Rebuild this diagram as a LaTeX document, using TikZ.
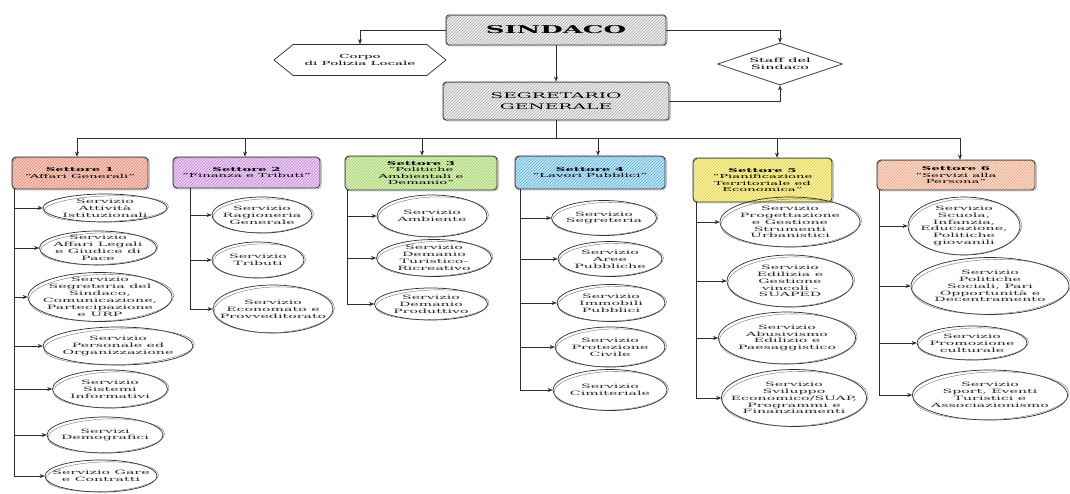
\documentclass[tikz,border=0pt]{standalone}
\usepackage{fontspec}
\setmainfont[FakeStretch=2.4]{DejaVu Serif}
\usetikzlibrary{arrows.meta,patterns,shapes.geometric,shapes.symbols}

\definecolor{ln}{RGB}{45,45,45}
\definecolor{Gf}{RGB}{238,238,238}\definecolor{Gl}{RGB}{170,170,170}
\definecolor{Af}{RGB}{248,206,194}\definecolor{Al}{RGB}{228,130,110}
\definecolor{Bf}{RGB}{236,208,242}\definecolor{Bl}{RGB}{192,128,212}
\definecolor{Cf}{RGB}{222,242,192}\definecolor{Cl}{RGB}{148,204,92}
\definecolor{Df}{RGB}{198,230,245}\definecolor{Dl}{RGB}{82,172,214}
\definecolor{Ef}{RGB}{250,244,172}\definecolor{El}{RGB}{222,206,56}
\definecolor{Ff}{RGB}{251,222,206}\definecolor{Fl}{RGB}{234,158,122}

\newcommand\svcfont{\fontsize{5.9}{6.9}\selectfont}
\newcommand\setfont{\fontsize{5.5}{6.3}\selectfont}

\newcommand\svcnode[6]{%
  \node[svcshape, minimum width=#4, minimum height=#5] (#1) at (#2,#3) {};
  \node[svctxt] (#1t) at (#1.center) {#6};
  \draw[sk, rotate around={2:(#2,#3)}] (#2+1.2,#3+0.8) ellipse [x radius=#4/2+0.3, y radius=#5/2-1.2];
}

\begin{document}
\begin{tikzpicture}[x=1pt,y=-1pt,
  conn/.style={draw=ln, line width=0.6pt},
  arr/.style={conn, -{Stealth[length=5pt,width=4pt]}},
  svcshape/.style={ellipse, draw=ln, line width=0.7pt, inner sep=0pt},
  svctxt/.style={align=center, font=\svcfont, inner sep=0pt, text=black!85},
  sk/.style={draw=ln!80, line width=0.3pt},
  hatch/.style 2 args={preaction={fill=#1}, pattern=north east lines, pattern color=#2},
  topbox/.style={draw=ln, line width=0.8pt, rounded corners=3pt, align=center, inner sep=1pt},
  sett/.style={draw=ln, line width=0.8pt, rounded corners=4pt, align=center, font=\setfont, inner sep=1pt},
]
\useasboundingbox (0,0) rectangle (1070,493);
\fill[white] (0,0) rectangle (1070,493);

% top level
\node[topbox, hatch={Gf}{Gl}, minimum width=220, minimum height=30,
  font=\fontsize{10.8}{12}\selectfont\bfseries] (sind) at (556,30) {SINDACO};
\node[topbox, hatch={Gf}{Gl}, minimum width=226, minimum height=38,
  font=\fontsize{7.8}{10.5}\selectfont] (seg) at (556,101) {SEGRETARIO\\GENERALE};
\node[signal, signal to=east and west, signal pointer angle=78, draw=ln, line width=0.7pt,
  fill=white, minimum width=172, minimum height=31, inner sep=1pt, align=center,
  font=\fontsize{5.6}{7}\selectfont] (corpo) at (360,60) {Corpo\\di Polizia Locale};
\node[diamond, aspect=3, draw=ln, line width=0.7pt, fill=white, minimum width=125,
  minimum height=42, inner sep=0pt, align=center,
  font=\fontsize{6}{7.5}\selectfont] (staff) at (780,64) {Staff del\\Sindaco};

\draw[arr] (sind.west) -| (corpo.north);
\draw[arr] (sind.east) -| (staff.north);
\draw[arr] (sind.south) -- (seg.north);
\draw[arr] (seg.east) -| (staff.south);

% settori
\node[sett, hatch={Af}{Al}, minimum width=136, minimum height=32] (s1) at (80,173)
  {\textbf{Settore 1}\\“Affari Generali”};
\node[sett, hatch={Bf}{Bl}, minimum width=147, minimum height=31] (s2) at (246.5,172.5)
  {\textbf{Settore 2}\\“Finanza e Tributi”};
\node[sett, hatch={Cf}{Cl}, minimum width=152, minimum height=34] (s3) at (421,173)
  {\textbf{Settore 3}\\“Politiche\\Ambientali e\\Demanio”};
\node[sett, hatch={Df}{Dl}, minimum width=150, minimum height=33] (s4) at (590,172.5)
  {\textbf{Settore 4}\\“Lavori Pubblici”};
\node[sett, hatch={Ef}{El}, minimum width=139, minimum height=44] (s5) at (762.5,180)
  {\textbf{Settore 5}\\“Pianificazione\\Territoriale ed\\Economica”};
\node[sett, hatch={Ff}{Fl}, minimum width=158, minimum height=30] (s6) at (956,175)
  {\textbf{Settore 6}\\“Servizi alla\\Persona”};

\foreach \b in {s1,s2,s3,s4,s5,s6,sind,seg}
  \draw[sk, rounded corners=4pt] ([shift={(1.2,1.2)}]\b.north west) rectangle ([shift={(0.8,0.6)}]\b.south east);

% bus
\coordinate (a1) at (77,138);
\coordinate (a2) at (245,138);
\coordinate (a3) at (422,138);
\coordinate (a4) at (598,138);
\coordinate (a5) at (777,138);
\coordinate (a6) at (960,138);
\draw[conn] (a1) -- (a6);
\draw[conn] (seg.south) -- (seg.south |- a1);
\foreach \i in {1,...,6} \draw[arr] (a\i) -- (a\i |- s\i.north);

% services settore 1
\svcnode{e11}{105}{208}{124}{28}{Servizio\\Attività\\Istituzionali}
\svcnode{e12}{98}{248}{117}{34}{Servizio\\Affari Legali\\e Giudice di\\Pace}
\svcnode{e13}{100}{297}{144}{49}{Servizio\\Segreteria del\\Sindaco,\\Comunicazione,\\Partecipazione\\e URP}
\svcnode{e14}{118}{346}{150}{38}{Servizio\\Personale ed\\Organizzazione}
\svcnode{e15}{110}{389}{115}{38}{Servizio\\Sistemi\\Informativi}
\svcnode{e16}{105}{435}{116}{36}{Servizi\\Demografici}
\svcnode{e17}{101}{476}{112}{32}{Servizio Gare\\e Contratti}
% settore 2
\svcnode{e21}{262}{215}{100}{36}{Servizio\\Ragioneria\\Generale}
\svcnode{e22}{258}{260}{92}{36}{Servizio\\Tributi}
\svcnode{e23}{273}{309}{120}{48}{Servizio\\Economato e\\Provveditorato}
% settore 3
\svcnode{e31}{432}{216}{110}{42}{Servizio\\Ambiente}
\svcnode{e32}{434}{258}{115}{37}{Servizio\\Demanio\\Turistico-\\Ricreativo}
\svcnode{e33}{431}{304}{113}{32}{Servizio\\Demanio\\Produttivo}
% settore 4
\svcnode{e41}{604}{218}{105}{35}{Servizio\\Segreteria}
\svcnode{e42}{610}{259}{104}{35}{Servizio\\Aree\\Pubbliche}
\svcnode{e43}{611}{303}{108}{37}{Servizio\\Immobili\\Pubblici}
\svcnode{e44}{610}{347}{110}{40}{Servizio\\Protezione\\Civile}
\svcnode{e45}{610}{390}{114}{41}{Servizio\\Cimiteriale}
% settore 5
\svcnode{e51}{790}{222}{140}{50}{Servizio\\Progettazione\\e Gestione\\Strumenti\\Urbanistici}
\svcnode{e52}{790}{281}{126}{52}{Servizio\\Edilizia e\\Gestione\\vincoli -\\SUAPED}
\svcnode{e53}{787}{338}{137}{52}{Servizio\\Abusivismo\\Edilizio e\\Paesaggistico}
\svcnode{e54}{794}{398}{145}{57}{Servizio\\Sviluppo\\Economico/SUAP,\\Programmi e\\Finanziamenti}
% settore 6
\svcnode{e61}{964}{226}{112}{58}{Servizio\\Scuola,\\Infanzia,\\Educazione,\\Politiche\\giovanili}
\svcnode{e62}{990}{286}{158}{57}{Servizio\\Politiche\\Sociali, Pari\\Opportunità e\\Decentramento}
\svcnode{e63}{972}{343}{110}{34}{Servizio\\Promozione\\culturale}
\svcnode{e64}{990}{395}{155}{50}{Servizio\\Sport, Eventi\\Turistici e\\Associazionismo}

% trunks
\coordinate (t1) at (14,189);
\coordinate (t2) at (190,188);
\coordinate (t3) at (347,190);
\coordinate (t4) at (520,189);
\coordinate (t5) at (696,202);
\coordinate (t6) at (879,190);
\draw[conn] (t1) -- (t1 |- e17.west);
\draw[conn] (t2) -- (t2 |- e23.west);
\draw[conn] (t3) -- (t3 |- e33.west);
\draw[conn] (t4) -- (t4 |- e45.west);
\draw[conn] (t5) -- (t5 |- e54.west);
\draw[conn] (t6) -- (t6 |- e64.west);
\foreach \e in {e11,e12,e13,e14,e15,e16,e17} \draw[arr] (t1 |- \e.west) -- (\e.west);
\foreach \e in {e21,e22,e23} \draw[arr] (t2 |- \e.west) -- (\e.west);
\foreach \e in {e31,e32,e33} \draw[arr] (t3 |- \e.west) -- (\e.west);
\foreach \e in {e41,e42,e43,e44,e45} \draw[arr] (t4 |- \e.west) -- (\e.west);
\foreach \e in {e51,e52,e53,e54} \draw[arr] (t5 |- \e.west) -- (\e.west);
\foreach \e in {e61,e62,e63,e64} \draw[arr] (t6 |- \e.west) -- (\e.west);
\end{tikzpicture}
\end{document}
